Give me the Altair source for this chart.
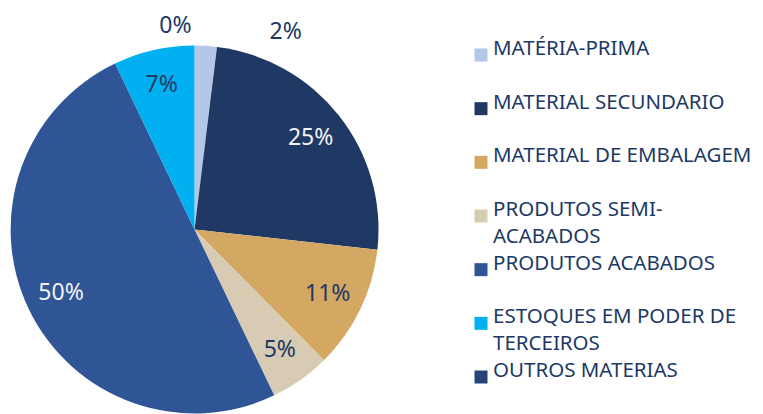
import altair as alt
import pandas as pd

categories = [
    "MATÉRIA-PRIMA",
    "MATERIAL SECUNDARIO",
    "MATERIAL DE EMBALAGEM",
    "PRODUTOS SEMI-ACABADOS",
    "PRODUTOS ACABADOS",
    "ESTOQUES EM PODER DE TERCEIROS",
    "OUTROS MATERIAS",
]
legend_lines = [
    ["MATÉRIA-PRIMA"],
    ["MATERIAL SECUNDARIO"],
    ["MATERIAL DE EMBALAGEM"],
    ["PRODUTOS SEMI-", "ACABADOS"],
    ["PRODUTOS ACABADOS"],
    ["ESTOQUES EM PODER DE", "TERCEIROS"],
    ["OUTROS MATERIAS"],
]
values = [1.95, 24.8, 10.8, 5.3, 50.0, 7.1, 0.0]
labels = ["2%", "25%", "11%", "5%", "50%", "7%", "0%"]
colors = ["#B4C7E7", "#203864", "#D4A862", "#D8CBB4", "#2F5597", "#00B0F0", "#264478"]
# where each percentage label sits: "white"/"dark" inside the slice, "out2"/"out0" outside callouts
label_kind = ["out2", "white", "dark", "dark", "white", "dark", "out0"]

df = pd.DataFrame({
    "cat": categories,
    "val": values,
    "label": labels,
    "order": list(range(len(categories))),
    "kind": label_kind,
})
leg = pd.DataFrame({"cat": categories, "lines": legend_lines})

FONT = "Noto Sans"
DARK = "#203864"
CY = 221.5

color_scale = alt.Scale(domain=categories, range=colors)

arcs = alt.Chart(df).mark_arc(outerRadius=184, stroke=None).encode(
    theta=alt.Theta("val:Q", stack=True),
    order=alt.Order("order:Q"),
    color=alt.Color("cat:N", scale=color_scale, legend=None),
    y=alt.value(CY),
)

# mid-angle of each slice computed from the data (clockwise from 12 o'clock, radians)
base_text = alt.Chart(df).transform_window(
    cum="sum(val)", sort=[alt.SortField("order")], frame=[None, 0]
).transform_joinaggregate(
    total="sum(val)"
).transform_calculate(
    mid="(datum.cum - datum.val / 2) / datum.total * 2 * PI",
    lc=f"datum.kind == 'white' ? '#F2F2F2' : '{DARK}'",
).encode(
    theta=alt.Theta("mid:Q", scale=None, stack=None),
    y=alt.value(CY),
    text="label:N",
)

in_text = base_text.transform_filter(
    "datum.kind == 'white' || datum.kind == 'dark'"
).mark_text(radius=148, font=FONT, fontSize=23).encode(
    color=alt.Color("lc:N", scale=None),
)
lbl_2 = base_text.transform_filter("datum.kind == 'out2'").mark_text(
    radius=200, font=FONT, fontSize=23, dx=79, dy=2, color=DARK
)
lbl_0 = base_text.transform_filter("datum.kind == 'out0'").mark_text(
    radius=204, font=FONT, fontSize=23, dx=-19, color=DARK
)

pie = alt.layer(arcs, in_text, lbl_2, lbl_0).properties(width=373, height=398)

yscale = alt.Scale(domain=categories, range=[47, 369], padding=0)
squares = alt.Chart(leg).mark_square(size=169, opacity=1).encode(
    y=alt.Y("cat:N", scale=yscale, axis=None, sort=categories),
    x=alt.value(21),
    color=alt.Color("cat:N", scale=color_scale, legend=None),
)
texts = alt.Chart(leg).mark_text(
    align="left", baseline="top", dy=-16, font=FONT, fontSize=20.5, lineHeight=27, color=DARK
).encode(
    y=alt.Y("cat:N", scale=yscale, axis=None, sort=categories),
    x=alt.value(33),
    text="lines",
)
legend = alt.layer(squares, texts).properties(width=285, height=398)

chart = alt.hconcat(pie, legend, spacing=79).properties(padding=0).configure_view(stroke=None)

chart.save("out.html", embed_options={"renderer": "svg", "actions": False})
